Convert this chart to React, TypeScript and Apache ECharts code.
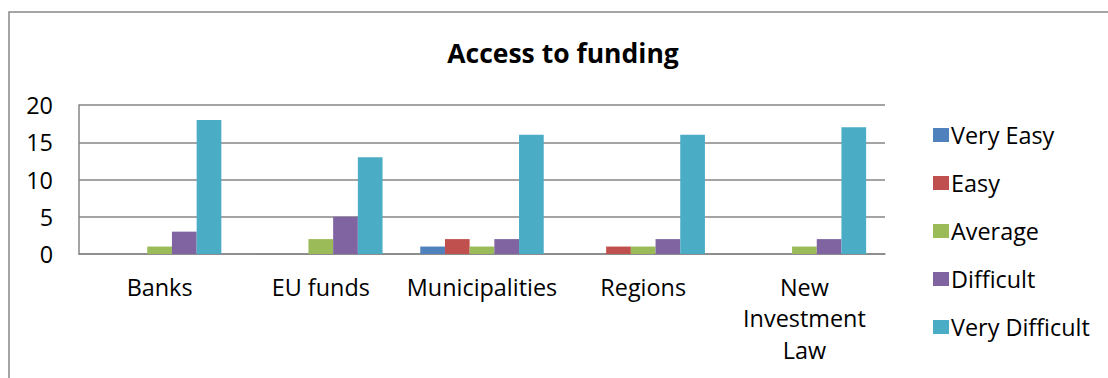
import React, { useEffect, useRef } from "react";
import * as echarts from "echarts";

const categories = ["Banks", "EU funds", "Municipalities", "Regions", "New Investment Law"];
const seriesNames = ["Very Easy", "Easy", "Average", "Difficult", "Very Difficult"];
const veryEasy = [0, 0, 1, 0, 0];
const easy = [0, 0, 2, 1, 0];
const average = [1, 2, 1, 1, 1];
const difficult = [3, 5, 2, 2, 2];
const veryDifficult = [18, 13, 16, 16, 17];
const colors = ["#4F81BD", "#C0504D", "#9BBB59", "#8064A2", "#4BACC6"];
const yTicks = { min: 0, max: 20, interval: 5 };

const FONT = "'Open Sans', sans-serif";
const FS = 23.4;

export default function App() {
  const ref = useRef<HTMLDivElement>(null);
  useEffect(() => {
    if (!ref.current) return;
    const chart = echarts.init(ref.current, null, { renderer: "svg" });
    const values = [veryEasy, easy, average, difficult, veryDifficult];
    chart.setOption({
      animation: false,
      color: colors,
      title: {
        text: "Access to funding",
        left: 558,
        textAlign: "center",
        top: 34,
        textStyle: { fontFamily: FONT, fontSize: 26.5, fontWeight: "bold", color: "#000" },
      },
      graphic: [
        {
          type: "rect",
          shape: { x: 9, y: 12, width: 1200, height: 500 },
          style: { fill: "none", stroke: "#888", lineWidth: 1.5 },
          silent: true,
        },
      ],
      legend: {
        orient: "vertical",
        left: 928,
        top: 117,
        itemWidth: 16,
        itemHeight: 14,
        itemGap: 22,
        icon: "rect",
        data: seriesNames,
        textStyle: { fontFamily: FONT, fontSize: FS, color: "#000", lineHeight: 26, padding: [0, 0, 0, -3] },
      },
      grid: { left: 79, top: 105, width: 806, height: 149, containLabel: false },
      xAxis: {
        type: "category",
        data: categories,
        axisLine: { show: true, lineStyle: { color: "#868686", width: 1.5 } },
        axisTick: { show: false },
        axisLabel: {
          fontFamily: FONT,
          fontSize: FS,
          color: "#000",
          lineHeight: 31.5,
          margin: 17,
          interval: 0,
          formatter: (v: string) => (v.length > 15 ? v.split(" ").join("\n") : v),
        },
      },
      yAxis: {
        type: "value",
        min: yTicks.min,
        max: yTicks.max,
        interval: yTicks.interval,
        axisLine: { show: true, lineStyle: { color: "#868686", width: 1.5 } },
        axisTick: { show: false },
        splitLine: { show: true, lineStyle: { color: "#868686", width: 1.5 } },
        axisLabel: { fontFamily: FONT, fontSize: FS, color: "#000", margin: 26 },
      },
      series: seriesNames.map((name, i) => ({
        name,
        type: "bar",
        data: values[i],
        barGap: "0%",
        barCategoryGap: "23.4%",
        itemStyle: { color: colors[i] },
      })),
    });
    return () => chart.dispose();
  }, []);
  return <div ref={ref} style={{ position: "absolute", left: 0, top: 0, width: 1108, height: 378 }} />;
}
